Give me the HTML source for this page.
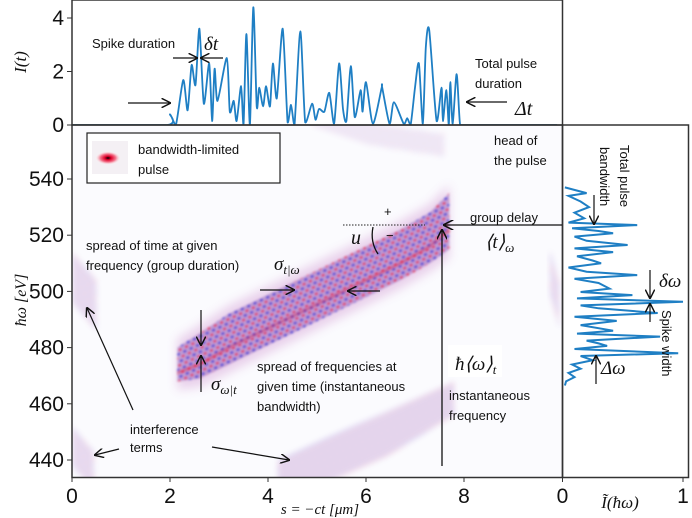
<!DOCTYPE html>
<html><head><meta charset="utf-8"><style>
html,body{margin:0;padding:0;background:#fff;}
svg{display:block;}
.t{font-family:"Liberation Sans",sans-serif;font-size:13px;fill:#111;}
.m{font-family:"Liberation Serif",serif;font-style:italic;fill:#111;}
.tk{font-family:"Liberation Sans",sans-serif;font-size:21px;fill:#111;}
</style></head><body>
<svg id="fig" width="692" height="518" viewBox="0 0 692 518" xmlns="http://www.w3.org/2000/svg">
<defs>
<marker id="ah" viewBox="0 0 10 10" refX="9" refY="5" markerWidth="8" markerHeight="8" orient="auto-start-reverse"><path d="M0,0 L10,5 L0,10" fill="none" stroke="#111" stroke-width="1.5"/></marker>
<filter id="bl" x="-20%" y="-50%" width="140%" height="200%"><feGaussianBlur stdDeviation="5"/></filter>
<filter id="bl2"><feGaussianBlur stdDeviation="1"/></filter>
<filter id="bl3" x="-30%" y="-30%" width="160%" height="160%"><feGaussianBlur stdDeviation="3"/></filter>
<radialGradient id="pg"><stop offset="0" stop-color="#000"/><stop offset="0.25" stop-color="#e0002a"/><stop offset="0.6" stop-color="#f47a90"/><stop offset="1" stop-color="#fff" stop-opacity="0"/></radialGradient>
<pattern id="tex" width="7" height="7" patternUnits="userSpaceOnUse" patternTransform="rotate(-25)"><rect width="7" height="7" fill="#8a5ab8" opacity="0.5"/><rect x="0" y="0" width="3" height="2" fill="#e0203a"/><rect x="3.5" y="3.5" width="3" height="2" fill="#2a2ad0"/></pattern>
<clipPath id="mc"><rect x="72" y="125" width="490.5" height="352.5"/></clipPath>
<clipPath id="tc"><rect x="72" y="0" width="490.5" height="125"/></clipPath>
</defs>
<rect x="72" y="125" width="490" height="352" fill="#fbfbfe"/>
<g id="heat" clip-path="url(#mc)"></g>
<g id="topPanel" clip-path="url(#tc)"></g>
<g id="spec"></g>
<g id="axes"></g>

<rect x="72" y="0" width="490.5" height="125" fill="none" stroke="#333" stroke-width="1.5"/>
<rect x="72" y="125" width="490.5" height="352.5" fill="none" stroke="#333" stroke-width="1.5"/>
<rect x="562.5" y="125" width="126" height="352.5" fill="none" stroke="#333" stroke-width="1.5"/>

<text class="t" x="92" y="48">Spike duration</text>
<text class="m" x="204" y="50" font-size="19">δt</text>
<line x1="173" y1="58" x2="197" y2="58" stroke="#111" stroke-width="1.2" marker-end="url(#ah)"/>
<line x1="223" y1="58" x2="201" y2="58" stroke="#111" stroke-width="1.2" marker-end="url(#ah)"/>
<line x1="128" y1="103" x2="170" y2="103" stroke="#111" stroke-width="1.2" marker-end="url(#ah)"/>
<text class="t" x="475" y="68">Total pulse</text>
<text class="t" x="475" y="88">duration</text>
<line x1="507" y1="102" x2="467" y2="102" stroke="#111" stroke-width="1.2" marker-end="url(#ah)"/>
<text class="m" x="515" y="115" font-size="20">Δt</text>

<g>
<rect x="87" y="133" width="193" height="50" fill="#fff" stroke="#222" stroke-width="1.2"/>
<rect x="92" y="141" width="36" height="33" fill="#f4f0f4"/>
<ellipse cx="108" cy="158" rx="13" ry="7" fill="url(#pg)"/>
<text class="t" x="138" y="154">bandwidth-limited</text>
<text class="t" x="138" y="174">pulse</text>
</g>
<text class="t" x="494" y="145">head of</text>
<text class="t" x="494" y="165">the pulse</text>

<text class="t" x="86" y="250">spread of time at given</text>
<text class="t" x="86" y="270">frequency (group duration)</text>
<text class="m" x="274" y="270" font-size="19">σ<tspan font-size="13" dy="4">t|ω</tspan></text>
<line x1="260" y1="290" x2="294" y2="290" stroke="#111" stroke-width="1.2" marker-end="url(#ah)"/>
<line x1="380" y1="291" x2="348" y2="291" stroke="#111" stroke-width="1.2" marker-end="url(#ah)"/>
<line x1="201" y1="310" x2="201" y2="345" stroke="#111" stroke-width="1.2" marker-end="url(#ah)"/>
<line x1="201" y1="392" x2="201" y2="356" stroke="#111" stroke-width="1.2" marker-end="url(#ah)"/>
<text class="m" x="211" y="390" font-size="19">σ<tspan font-size="13" dy="4">ω|t</tspan></text>
<text class="t" x="257" y="371">spread of frequencies at</text>
<text class="t" x="257" y="391">given time (instantaneous</text>
<text class="t" x="257" y="411">bandwidth)</text>
<text class="t" x="130" y="434">interference</text>
<text class="t" x="130" y="452">terms</text>
<line x1="133" y1="410" x2="87" y2="308" stroke="#111" stroke-width="1.2" marker-end="url(#ah)"/>
<line x1="119" y1="449" x2="95" y2="455" stroke="#111" stroke-width="1.2" marker-end="url(#ah)"/>
<line x1="212" y1="447" x2="289" y2="460" stroke="#111" stroke-width="1.2" marker-end="url(#ah)"/>

<line x1="343" y1="225" x2="425" y2="225" stroke="#222" stroke-width="1" stroke-dasharray="1.5,1.5"/>
<text class="t" x="384" y="216" font-size="14">+</text>
<text class="t" x="386" y="240" font-size="14">−</text>
<text class="m" x="351" y="244" font-size="20">u</text>
<path d="M373,227 Q370,242 378,254" fill="none" stroke="#111" stroke-width="1.3"/>
<text class="t" x="470" y="222" font-size="14">group delay</text>
<line x1="562" y1="225" x2="444" y2="225" stroke="#111" stroke-width="1.3" marker-end="url(#ah)"/>
<text class="m" x="485" y="248" font-size="19">⟨t⟩<tspan font-size="13" dy="4">ω</tspan></text>
<line x1="442" y1="466" x2="442" y2="230" stroke="#111" stroke-width="1.3" marker-end="url(#ah)"/>
<rect x="448" y="345" width="54" height="32" fill="#fff"/>
<text class="m" x="455" y="370" font-size="19">ħ⟨ω⟩<tspan font-size="13" dy="4">t</tspan></text>
<text class="t" x="449" y="400" font-size="14">instantaneous</text>
<text class="t" x="449" y="420" font-size="14">frequency</text>

<text class="t" x="620" y="145" font-size="14" transform="rotate(90 620 145)">Total pulse</text>
<text class="t" x="600" y="147" font-size="14" transform="rotate(90 600 147)">bandwidth</text>
<line x1="594" y1="195" x2="594" y2="224" stroke="#111" stroke-width="1.2" marker-end="url(#ah)"/>
<text class="m" x="659" y="287" font-size="19">δω</text>
<line x1="650" y1="270" x2="650" y2="298" stroke="#111" stroke-width="1.2" marker-end="url(#ah)"/>
<line x1="650" y1="322" x2="650" y2="304" stroke="#111" stroke-width="1.2" marker-end="url(#ah)"/>
<text class="t" x="662" y="310" font-size="14" transform="rotate(90 662 310)">Spike width</text>
<text class="m" x="601" y="374" font-size="19">Δω</text>
<line x1="596" y1="384" x2="596" y2="356" stroke="#111" stroke-width="1.2" marker-end="url(#ah)"/>

<text class="m" x="26" y="62" font-size="17" text-anchor="middle" transform="rotate(-90 26 62)">I(t)</text>
<text class="m" x="26" y="300" font-size="16" text-anchor="middle" transform="rotate(-90 26 300)">ħω [eV]</text>
<text class="m" x="320" y="514" font-size="15" text-anchor="middle">s = −ct [μm]</text>
<text class="m" x="620" y="508" font-size="17" text-anchor="middle">Ĩ(ħω)</text>
</svg>
<script>
// temporal intensity I(t) vs s [um]
const tS=[0,1.94,2.0,2.12,2.27,2.36,2.44,2.52,2.6,2.69,2.8,2.86,2.91,2.97,3.16,3.22,3.3,3.36,3.45,3.5,3.56,3.63,3.7,3.77,3.82,3.9,3.96,4.04,4.1,4.18,4.3,4.4,4.47,4.54,4.66,4.76,4.9,4.97,5.04,5.15,5.25,5.35,5.45,5.53,5.6,5.69,5.77,5.89,5.93,6.0,6.14,6.32,6.33,6.48,6.57,6.77,6.84,6.91,7.0,7.08,7.16,7.22,7.29,7.44,7.54,7.57,7.64,7.69,7.72,7.77,7.85,7.92,8.02,8.1,8.2,8.4,9.9];
const tI=[0,0,0.4,0,1.68,0.55,2.24,1.5,3.6,0.8,2.3,0.15,2.1,0.9,2.5,0.5,0.9,0.15,1.45,0,3.4,0,4.4,0.7,1.4,0.7,1.45,0.7,2.3,1.0,3.6,0.1,0.75,0,3.5,0.1,0.8,0.2,0.6,0.5,1.2,0.05,2.3,0.6,0.15,2.2,0.3,1.3,0.5,1.6,0.05,1.4,1.4,0.05,0.85,0.05,0.25,0,1.4,2.3,0.05,2.9,3.55,0.15,1.4,0.15,1.3,0,1.6,0.05,1.9,0,0,0,0,0,0];
// spectrum: photon energy [eV] and normalised intensity
const spE=[537,535,534,532,530,528,526,524.5,523.6,522.5,521.5,520.7,519.5,518,516.5,515.3,514,512.5,511,510,508.5,507,505.8,504.5,503,501,499.8,498.7,497.5,496.3,495,494,492.3,491,489.5,488,486,485,483.9,482.5,481.5,480.6,479.5,478,477,475.5,474,472.5,471,469.5,468,466.5];
const spV=[0.02,0.2,0.05,0.15,0.22,0.1,0.18,0.05,0.62,0.08,0.3,0.42,0.1,0.2,0.54,0.1,0.42,0.12,0.25,0.32,0.05,0.2,0.62,0.1,0.3,0.39,0.15,0.58,0.12,1.0,0.15,0.3,0.79,0.1,0.45,0.15,0.42,0.12,0.81,0.2,0.3,0.37,0.1,0.96,0.15,0.25,0.08,0.15,0.05,0.1,0.03,0.02];
// main Wigner band ridge
const bandS=[2.15,2.6,3.2,3.9,4.6,5.3,6.0,6.7,7.3,7.7];
const bandE=[474,477,483,489,495,501,507,513,519,525];
const bandHW=[6,8,9,9,9,9,9,9,9,10];
// secondary (interference / alias) bands
const ghostS=[[0.0,0.5],[0.0,0.45],[4.2,5.2,6.4,7.8],[4.9,6.1,7.6],[9.75,9.95]];
const ghostE=[[505,495],[445,436],[434,440,449,462],[563,556,552],[507,495]];
const ghostW=[[9,9],[7,7],[6,8,8,6],[4,4,4],[8,8]];
const ghostOp=[0.3,0.3,0.35,0.18,0.3];
const yTopTicks=[0,2,4];
const yMainTicks=[440,460,480,500,520,540];
const xTicks=[0,2,4,6,8];
const xSpecTicks=[0,1];

const NS='http://www.w3.org/2000/svg';
const sx=s=>72+49*s;
const ty=v=>125-26.75*v;
const ey=e=>460-(e-440)*2.81;
const spx=v=>562.5+120.5*v;
function mk(tag,attrs,parent){const el=document.createElementNS(NS,tag);for(const k in attrs)el.setAttribute(k,attrs[k]);parent.appendChild(el);return el;}

const heatG=document.getElementById('heat');
function bandPoly(S,E,W){const up=[],dn=[];for(let i=0;i<S.length;i++){up.push(sx(S[i])+','+ey(E[i]+W[i]));dn.unshift(sx(S[i])+','+ey(E[i]-W[i]));}return up.concat(dn).join(' ');}
for(let g=0;g<ghostS.length;g++){
  const p=mk('polygon',{points:bandPoly(ghostS[g],ghostE[g],ghostW[g]),fill:'url(#tex)',opacity:ghostOp[g],filter:'url(#bl3)'},heatG);
  
  
}
const halo=mk('polygon',{points:bandPoly(bandS,bandE,bandHW.map(w=>w+3)),fill:'#c070c0',opacity:0.3,filter:'url(#bl)'},heatG);


const bandEl=mk('polygon',{points:bandPoly(bandS,bandE,bandHW),fill:'url(#tex)',opacity:0.9,filter:'url(#bl2)'},heatG);


let rd='';for(let i=0;i<bandS.length;i++)rd+=(i?'L':'M')+sx(bandS[i])+','+ey(bandE[i]-3);
const ridge=mk('path',{d:rd,fill:'none',stroke:'#e01030',"stroke-width":3,opacity:0.35,filter:'url(#bl2)'},heatG);



const topG=document.getElementById('topPanel');
function smooth(pts){let d='M'+pts[0][0]+','+pts[0][1];for(let i=0;i<pts.length-1;i++){const p0=pts[i-1]||pts[i],p1=pts[i],p2=pts[i+1],p3=pts[i+2]||p2;const c1=[p1[0]+(p2[0]-p0[0])/8,p1[1]+(p2[1]-p0[1])/8],c2=[p2[0]-(p3[0]-p1[0])/8,p2[1]-(p3[1]-p1[1])/8];d+='C'+c1[0].toFixed(1)+','+Math.min(125,c1[1]).toFixed(1)+' '+c2[0].toFixed(1)+','+Math.min(125,c2[1]).toFixed(1)+' '+p2[0].toFixed(1)+','+p2[1].toFixed(1);}return d;}
const tpts=tS.map((s,i)=>[sx(s),ty(tI[i])]);
const tl=mk('path',{d:smooth(tpts),fill:'none',stroke:'#1f7fc4',"stroke-width":1.8},topG);



const specG=document.getElementById('spec');
let sd='';for(let i=0;i<spE.length;i++)sd+=(i?'L':'M')+spx(spV[i]).toFixed(1)+','+ey(spE[i]).toFixed(1);
const sl=mk('path',{d:sd,fill:'none',stroke:'#1f7fc4',"stroke-width":2},specG);



const axG=document.getElementById('axes');
yTopTicks.forEach(v=>{
  mk('line',{x1:67,x2:72,y1:ty(v),y2:ty(v),stroke:'#333'},axG);
  const t=mk('text',{x:64,y:ty(v)+7,'text-anchor':'end',class:'tk'},axG);t.textContent=v;
  
  
});
yMainTicks.forEach(v=>{
  mk('line',{x1:67,x2:72,y1:ey(v),y2:ey(v),stroke:'#333'},axG);
  const t=mk('text',{x:64,y:ey(v)+7,'text-anchor':'end',class:'tk'},axG);t.textContent=v;
  
  
});
xTicks.forEach(v=>{
  mk('line',{x1:sx(v),x2:sx(v),y1:477,y2:482,stroke:'#333'},axG);
  const t=mk('text',{x:sx(v),y:503,'text-anchor':'middle',class:'tk'},axG);t.textContent=v;
  
  
});
xSpecTicks.forEach(v=>{
  mk('line',{x1:spx(v),x2:spx(v),y1:477,y2:482,stroke:'#333'},axG);
  const t=mk('text',{x:spx(v),y:503,'text-anchor':'middle',class:'tk'},axG);t.textContent=v;
  
  
});
</script>
</body></html>
